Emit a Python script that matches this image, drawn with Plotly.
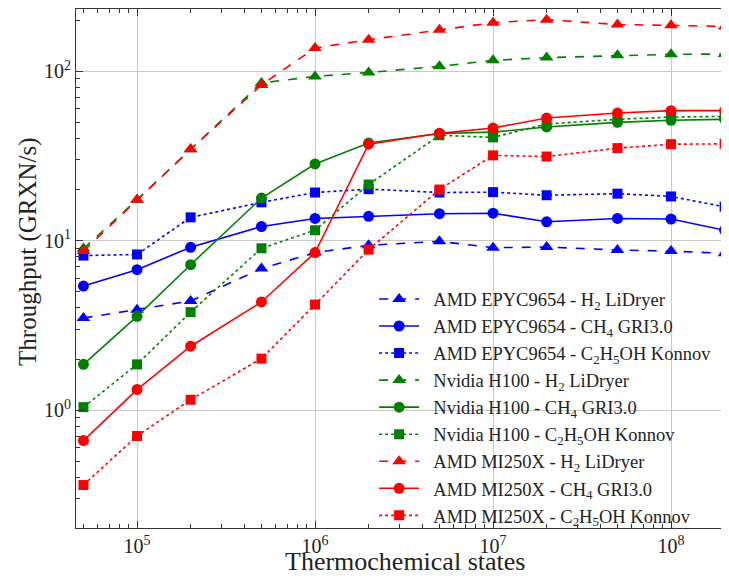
import numpy as np
import plotly.graph_objects as go

states = [5e4, 1e5, 2e5, 5e5, 1e6, 2e6, 5e6, 1e7, 2e7, 5e7, 1e8, 2e8]

epyc_h2 = [3.49, 3.91, 4.40, 6.83, 8.49, 9.37, 9.89, 9.08, 9.15, 8.79, 8.67, 8.40]
epyc_ch4 = [5.39, 6.73, 9.12, 12.1, 13.5, 13.9, 14.4, 14.5, 12.9, 13.5, 13.4, 11.5]
epyc_c2h5oh = [8.15, 8.28, 13.7, 16.8, 19.2, 20.1, 19.2, 19.3, 18.5, 18.9, 18.2, 15.8]
h100_h2 = [8.96, 17.4, 34.5, 85.0, 93.0, 98.0, 106.6, 115.6, 120.0, 123.8, 125.5, 126.0]
h100_ch4 = [1.86, 3.57, 7.2, 17.8, 28.3, 37.6, 42.8, 43.6, 46.8, 49.8, 51.2, 51.9]
h100_c2h5oh = [1.04, 1.86, 3.78, 9.0, 11.5, 21.4, 41.8, 40.6, 48.7, 51.9, 53.5, 54.0]
mi250_h2 = [8.67, 17.4, 34.5, 82.8, 136.7, 153.0, 175.0, 193.0, 201.0, 188.0, 186.0, 183.0]
mi250_ch4 = [0.66, 1.32, 2.38, 4.34, 8.49, 37.0, 42.9, 46.1, 52.8, 56.5, 58.4, 58.4]
mi250_c2h5oh = [0.361, 0.703, 1.15, 2.01, 4.19, 8.84, 20.0, 31.8, 31.3, 35.1, 37.0, 37.2]

x_tick_vals = [1e5, 1e6, 1e7, 1e8]
x_tick_text = ["10<sup>5</sup>", "10<sup>6</sup>", "10<sup>7</sup>", "10<sup>8</sup>"]
y_tick_vals = [1, 10, 100]
y_tick_text = ["10<sup>0</sup>", "10<sup>1</sup>", "10<sup>2</sup>"]

labels = [
    "AMD EPYC9654 - H<sub>2</sub> LiDryer",
    "AMD EPYC9654 - CH<sub>4</sub> GRI3.0",
    "AMD EPYC9654 - C<sub>2</sub>H<sub>5</sub>OH Konnov",
    "Nvidia H100 - H<sub>2</sub> LiDryer",
    "Nvidia H100 - CH<sub>4</sub> GRI3.0",
    "Nvidia H100 - C<sub>2</sub>H<sub>5</sub>OH Konnov",
    "AMD MI250X - H<sub>2</sub> LiDryer",
    "AMD MI250X - CH<sub>4</sub> GRI3.0",
    "AMD MI250X - C<sub>2</sub>H<sub>5</sub>OH Konnov",
]
series = [epyc_h2, epyc_ch4, epyc_c2h5oh, h100_h2, h100_ch4, h100_c2h5oh,
          mi250_h2, mi250_ch4, mi250_c2h5oh]
colors = ["#0000ff"] * 3 + ["#008000"] * 3 + ["#ff0000"] * 3
dashes = ["dash", "solid", "dot"] * 3
symbols = ["triangle-up", "circle", "square"] * 3
sizes = [12, 11, 10] * 3

FONT = "Liberation Serif, DejaVu Serif, serif"
TXT = "#222222"

fig = go.Figure()
for i, (lab, ys) in enumerate(zip(labels, series)):
    fig.add_trace(go.Scatter(
        x=states, y=ys, name="\u00a0\u00a0" + lab, mode="lines+markers",
        line=dict(color=colors[i], dash=dashes[i], width=1.6),
        marker=dict(symbol=symbols[i], size=sizes[i], color=colors[i]),
    ))

fig.add_shape(type="rect", xref="x", yref="paper", x0=6, x1=np.log10(5e6), y0=0, y1=1,
              fillcolor="rgba(173,216,230,0.4)", line=dict(width=0), layer="below")
fig.add_shape(type="rect", xref="x", yref="paper", x0=np.log10(2e7), x1=9, y0=0, y1=1,
              fillcolor="rgba(255,0,0,0.17)", line=dict(width=1, color="rgba(255,0,0,0.2)"), layer="below")

axis_common = dict(
    type="log", showline=True, linecolor="#333333", linewidth=1.2, mirror="ticks",
    ticks="inside", ticklen=7, tickcolor="#333333", showgrid=True, gridcolor="#c8c8c8",
    gridwidth=1, zeroline=False, automargin=False,
    minor=dict(ticks="inside", ticklen=4, tickcolor="#333333", dtick="D1", showgrid=False),
    tickfont=dict(family=FONT, size=20, color=TXT),
)

# figure is offset by the page's 8px body margin; plot area spans window x 76..737, y 9..528
fig.update_xaxes(**axis_common, range=[np.log10(4.54e4), np.log10(4.54e4) + 661 / 178.0],
                 tickmode="array", tickvals=x_tick_vals, ticktext=x_tick_text)
fig.update_yaxes(**axis_common, range=[-0.696, 2.366],
                 tickmode="array", tickvals=y_tick_vals, ticktext=y_tick_text)

fig.add_annotation(text="Thermochemical states", xref="paper", yref="paper",
                   x=0.498, y=-0.0655, xanchor="center", yanchor="middle", showarrow=False,
                   font=dict(family=FONT, size=26, color=TXT))
fig.add_annotation(text="Throughput (GRXN/s)", xref="paper", yref="paper",
                   x=-0.0726, y=0.532, xanchor="center", yanchor="middle", showarrow=False,
                   textangle=-90, font=dict(family=FONT, size=25, color=TXT))

fig.update_layout(
    width=729, height=578,
    margin=dict(l=68, r=0, t=1, b=58),
    paper_bgcolor="white", plot_bgcolor="white",
    legend=dict(x=0.451, y=0.477, xanchor="left", yanchor="top",
                bgcolor="rgba(0,0,0,0)", font=dict(family=FONT, size=18.5, color=TXT),
                tracegroupgap=0, itemwidth=40),
    font=dict(family=FONT),
)

fig.write_html("out.html")
